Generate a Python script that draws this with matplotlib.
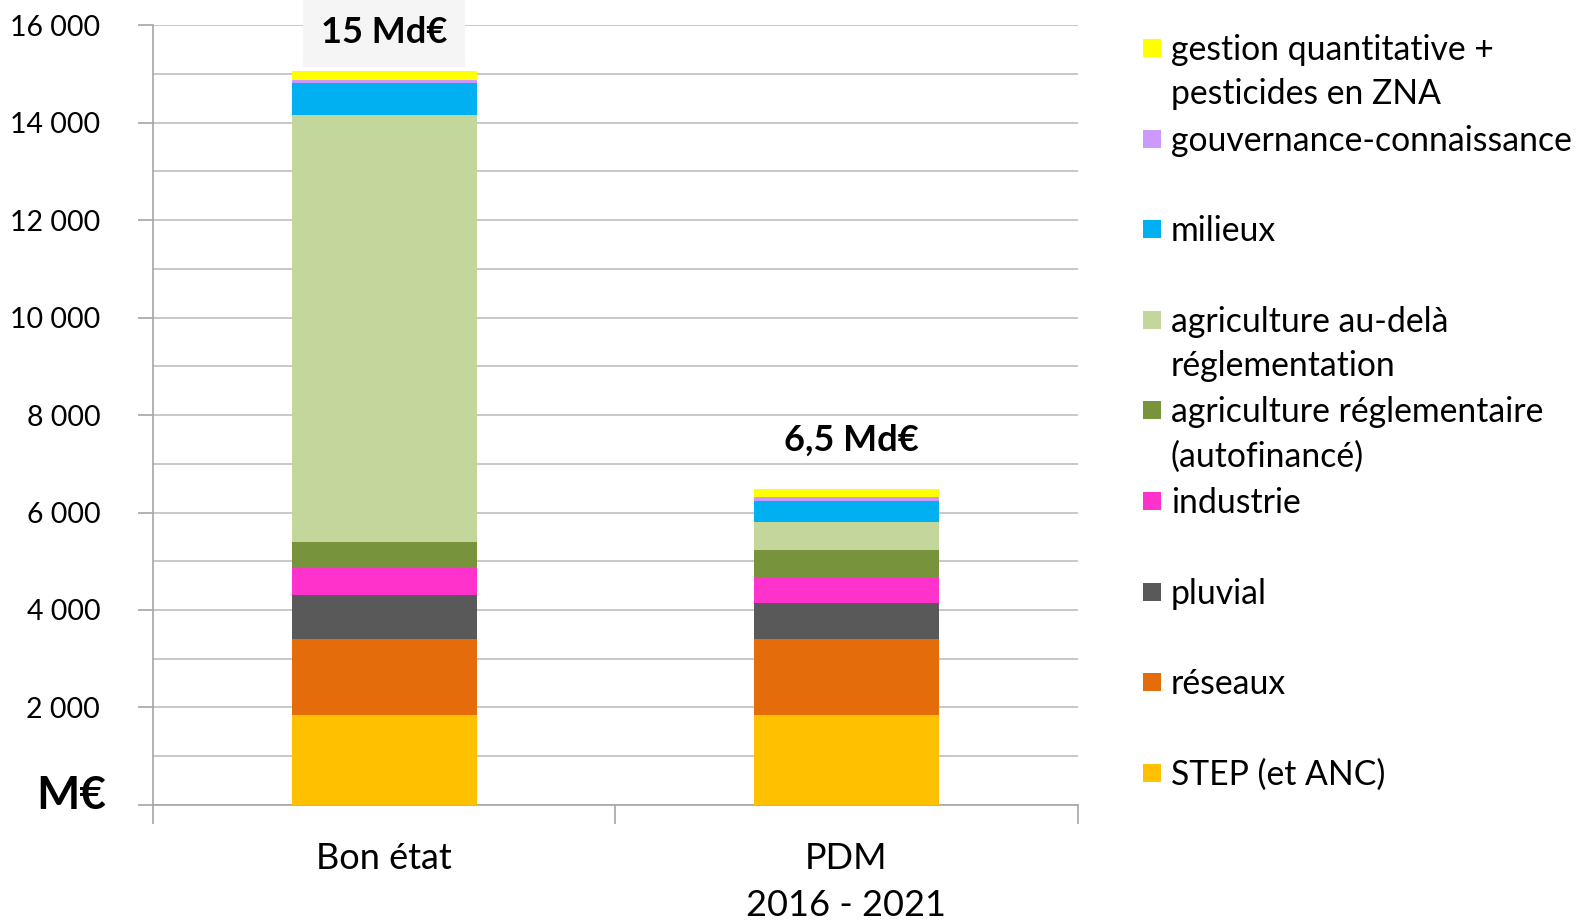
import matplotlib.pyplot as plt
import matplotlib as mpl
from matplotlib.patches import Rectangle
from matplotlib.ticker import MultipleLocator, FuncFormatter

mpl.rcParams.update({
    "font.family": ["Lato", "DejaVu Sans"],
    "font.size": 20,
})

# --- data (M€), stacked bottom -> top ---
categories = ["Bon état", "PDM\n2016 - 2021"]
series = [
    "STEP (et ANC)",
    "réseaux",
    "pluvial",
    "industrie",
    "agriculture réglementaire\n(autofinancé)",
    "agriculture au-delà\nréglementation",
    "milieux",
    "gouvernance-connaissance",
    "gestion quantitative +\npesticides en ZNA",
]
bon_etat = [1850, 1550, 900, 560, 540, 8750, 670, 55, 180]
pdm      = [1850, 1550, 740, 530, 555, 575, 440, 80, 160]
totals_label = ["15 Md€", "6,5 Md€"]

colors = ["#FFC000", "#E46C0A", "#595959", "#FF33CC", "#77933C",
          "#C3D69B", "#00B0F0", "#CC99FF", "#FFFF00"]

W, H = 1579, 922
fig = plt.figure(figsize=(W / 100, H / 100), dpi=100)
ax = fig.add_axes([0.0969, 0.127, 0.5855, 0.8457])

x = [0, 1]
bottoms = [0, 0]
for name, v1, v2, c in zip(series, bon_etat, pdm, colors):
    ax.bar(x, [v1, v2], width=0.4, bottom=bottoms, color=c, linewidth=0, zorder=3)
    bottoms = [bottoms[0] + v1, bottoms[1] + v2]

ax.set_xlim(-0.5, 1.5)
ax.set_ylim(0, 16000)

# axes styling (Excel look)
for s in ["top", "right"]:
    ax.spines[s].set_visible(False)
for s in ["left", "bottom"]:
    ax.spines[s].set_color("#A6A6A6")
    ax.spines[s].set_linewidth(1.2)

ax.yaxis.set_major_locator(MultipleLocator(2000))
ax.yaxis.set_minor_locator(MultipleLocator(1000))
ax.yaxis.set_major_formatter(FuncFormatter(
    lambda v, p: "" if v == 0 else f"{int(v):,}".replace(",", " ")))
ax.tick_params(axis="y", which="major", length=11, width=1.2, color="#A6A6A6",
               labelsize=20.5, pad=27)
ax.tick_params(axis="y", which="minor", length=0)
ax.grid(axis="y", which="both", color="#BFBFBF", linewidth=1.2, zorder=0)

ax.set_xticks([-0.5, 0.5, 1.5])
ax.set_xticklabels([])
ax.set_xticks(x, minor=True)
ax.set_xticklabels(categories, minor=True, fontsize=26, linespacing=1.5)
ax.tick_params(axis="x", which="major", length=14, width=1.2, color="#A6A6A6")
ax.tick_params(axis="x", which="minor", length=0, pad=27)

# unit label in place of 0
ax.text(-0.051, 180, "M€", transform=ax.get_yaxis_transform(), ha="right",
        va="center", fontsize=33, fontweight="bold")

# totals
ax.text(0, 15850, totals_label[0], ha="center", va="center", fontsize=26,
        fontweight="bold",
        bbox=dict(boxstyle="square,pad=0.5", facecolor="#F5F5F5", edgecolor="none"))
ax.text(1.01, 7480, totals_label[1], ha="center", va="center", fontsize=26,
        fontweight="bold")

# legend, drawn manually for Excel-like fixed spacing (top entry = top of stack)
leg_x_box, leg_x_txt = 1143 / W, 1171 / W
leg_y0, leg_dy, line_dy = 50, 90.6, 44.3
sq = 18
for i, (name, c) in enumerate(zip(series[::-1], colors[::-1])):
    yc = leg_y0 + i * leg_dy
    fig.patches.append(Rectangle((leg_x_box, 1 - (yc - 2 + sq / 2) / H), sq / W, sq / H,
                                 transform=fig.transFigure, facecolor=c,
                                 edgecolor="none"))
    for j, line in enumerate(name.split("\n")):
        fig.text(leg_x_txt, 1 - (yc + j * line_dy) / H, line, ha="left",
                 va="center", fontsize=24.3)

fig.savefig("out.png", dpi=100)
